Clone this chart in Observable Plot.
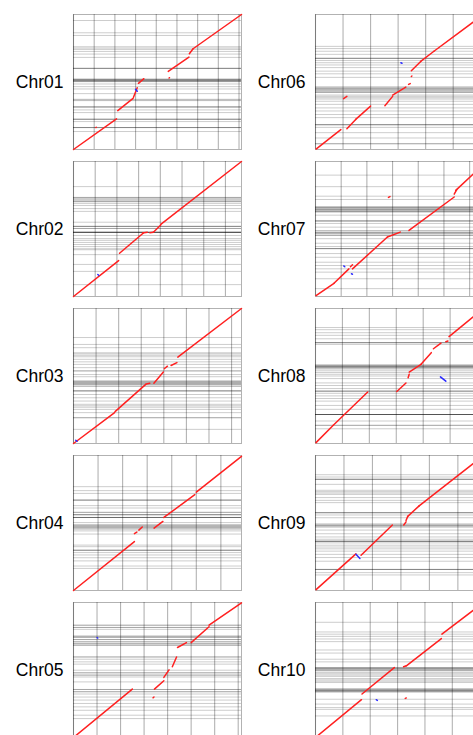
<!DOCTYPE html>
<html><head><meta charset="utf-8">
<script src="https://cdn.jsdelivr.net/npm/d3@7"></script>
<script src="https://cdn.jsdelivr.net/npm/@observablehq/plot@0.6"></script>
<style>
body{margin:0;background:#fff;}
#chart{position:relative;width:473px;height:735px;overflow:hidden;font-family:"Liberation Sans",Arial,sans-serif;}
.panel{position:absolute;}
.panel svg{max-width:none !important;}
</style></head>
<body><div id="chart"></div>
<script>
const chromosomes = ["Chr01","Chr02","Chr03","Chr04","Chr05","Chr06","Chr07","Chr08","Chr09","Chr10"];
const lengths = [40.6, 38.7, 37.2, 34.2, 35.7, 30.5, 32.7, 31.2, 29.5, 30.7]; // Mb
const tickStep = 5; // Mb

// forward alignments [x1, y1, x2, y2] in Mb
const chr01Fwd = [[0,0,10.4,9.2],[10.7,11.7,14.4,15.4],[14.5,15.7,15.4,18.6],[15.7,19.9,17.0,21.3],[23.1,21.5,23.2,21.6],[5.4,6.6,5.5,6.7],[22.9,23.5,27.9,27.8],[28.0,28.8,28.9,30.3],[28.9,30.3,40.6,40.6]];
const chr02Fwd = [[0,0,10.4,10.3],[10.6,12.4,16.1,18.2],[15.9,18.2,17.0,18.4],[17.6,18.3,18.4,18.4],[18.4,18.4,20.1,20.5],[20.1,20.7,38.7,38.7]];
const chr03Fwd = [[0,0,9.1,8.5],[9.2,8.8,16.0,16.3],[16.1,16.4,16.9,16.6],[17.8,16.6,19.9,19.7],[20.1,20.6,20.8,21.3],[21.6,21.5,22.9,22.3],[23.1,23.8,37.2,37.2]];
const chr04Fwd = [[0,0,12.4,12.4],[12.4,14.4,12.9,14.8],[13.3,15.3,14.0,16.1],[16.4,15.8,18.2,17.5],[18.4,18.5,24.7,24.3],[25.0,24.9,34.2,34.0]];
const chr05Fwd = [[0,0,12.5,12.8],[16.9,10.5,17.1,10.7],[17.2,12.8,19.2,15.0],[19.2,15.9,20.3,17.9],[21.0,18.7,21.9,21.3],[22.1,23.8,24.0,25.1],[25.0,25.1,28.8,29.3],[28.8,29.7,35.7,35.6]];
const chr06Fwd = [[0.1,0.1,4.6,4.5],[5.7,4.7,7.3,6.8],[7.3,6.8,10.0,9.8],[5.1,11.5,5.7,12.0],[12.6,9.9,14.0,12.0],[14.0,12.3,16.4,14.1],[16.9,14.7,17.2,14.9],[17.4,16.5,17.5,16.6],[17.4,17.8,19.1,19.9],[19.1,19.9,21.5,22.2],[21.5,22.2,30.5,30.5]];
const chr07Fwd = [[0.1,0.2,3.6,3.2],[3.6,3.2,6.5,6.7],[6.8,7.2,7.2,7.7],[7.2,6.7,14.0,14.4],[14.0,14.4,16.5,15.6],[18.2,16.0,27.0,24.1],[27.0,24.8,27.5,25.9],[27.3,25.7,32.7,32.0],[14.2,24.0,14.5,24.2]];
const chr08Fwd = [[0.1,0.2,3.3,4.2],[3.3,4.2,9.7,11.9],[15.1,12.0,16.8,14.0],[17.2,15.2,17.4,16.0],[17.4,16.5,19.6,18.3],[19.6,18.3,21.5,21.0],[21.9,21.9,23.3,23.2],[24.2,23.5,24.6,23.7],[24.8,24.7,31.2,31.2]];
const chr09Fwd = [[0.1,0.2,7.1,8.0],[8.0,7.7,13.5,14.3],[15.5,14.3,15.9,15.0],[15.9,15.3,16.2,16.2],[16.2,16.2,18.2,18.5],[18.2,18.5,29.5,29.5]];
const chr10Fwd = [[0,0,8.4,8.6],[8.5,9.9,14.4,15.9],[16.1,16.1,16.6,16.3],[16.6,16.3,23.0,22.5],[23.1,23.5,30.7,30.7],[16.4,8.9,16.6,9.0]];

// reverse alignments [x1, y1, x2, y2] in Mb
const chr01Rev = [[15.0,18.1,15.4,17.5]];
const chr02Rev = [[5.6,6.3,5.8,6.1]];
const chr03Rev = [[0.5,0.9,0.8,0.6]];
const chr04Rev = [];
const chr05Rev = [[5.0,26.4,5.15,26.3]];
const chr06Rev = [[15.5,19.6,15.7,19.5]];
const chr07Rev = [[5.5,7.4,5.7,7.2],[7.0,5.5,7.2,5.4]];
const chr08Rev = [[23.2,15.4,24.2,14.4]];
const chr09Rev = [[7.1,7.9,7.8,7.0]];
const chr10Rev = [[11.1,8.6,11.3,8.45]];

// contig boundaries on the query (y) axis, Mb; repeats = several boundaries at one place
const chr01Contigs = [38.8,35.1,34.3,30.9,30.5,30.1,29.5,28.7,27.7,24.4,24.4,24.4,21.2,21.1,21.0,20.9,20.8,20.7,20.6,20.5,20.4,19.7,18.9,18.2,16.8,15.1,14.9,14.7,12.8,12.8,12.8,11.9,11.1,9.1,9.1,9.1,8.4,6.6,6.6,6.6,5.4];
const chr02Contigs = [31.5,28.4,28.1,27.8,27.5,27.2,28.4,27.2,26.7,26.1,25.2,24.4,21.3,20.1,20.1,20.1,19.5,19.5,18.4,18.4,18.4,18.4,18.4,18.4,17.5,16.6,16.1,15.5,14.9,14.3,13.7,13.4,12.0,9.2,7.2,3.4];
const chr03Contigs = [29.2,27.3,26.4,25.0,24.7,24.3,23.9,23.2,22.5,21.8,20.9,20.0,20.0,19.0,18.4,17.2,17.2,16.9,16.9,16.6,16.6,16.3,16.3,15.8,15.8,14.5,14.5,14.5,13.5,12.6,11.7,10.8,10.4,10.0,9.4,8.5,7.1,7.1,3.9];
const chr04Contigs = [26.3,25.3,24.6,22.9,22.9,22.9,21.5,20.9,19.8,19.8,19.2,19.2,19.2,18.5,18.5,18.5,18.5,17.2,16.6,16.6,16.3,16.3,16.0,16.0,15.6,15.6,15.1,14.3,11.5,11.1,10.2,10.2,10.2,9.6,9.0,8.3,7.5,6.2,5.6];
const chr05Contigs = [29.7,29.7,29.1,29.1,28.6,26.8,26.8,26.5,26.5,25.9,25.9,25.3,25.3,24.8,24.8,24.4,24.4,21.3,21.3,20.7,20.0,19.4,17.8,17.1,17.1,16.5,16.5,16.0,14.7,12.7,12.7,12.1,12.1,11.5,10.7,9.9,9.0,8.1,7.2,5.9,5.0];
const chr06Contigs = [23.3,22.8,22.2,21.5,20.6,20.6,20.6,20.1,19.6,19.1,18.5,17.7,17.1,16.3,14.1,14.1,13.8,13.8,13.5,13.5,13.2,13.2,12.9,12.9,12.3,12.0,11.7,11.4,10.9,10.2,9.4,8.7,7.9,7.2,5.6,5.6,5.6,5.0,3.8,2.6,1.3,1.3];
const chr07Contigs = [29.4,26.6,24.3,23.5,21.7,21.7,21.5,21.5,21.2,21.2,21.0,21.0,20.7,20.7,20.5,20.5,19.7,18.3,18.3,18.3,17.7,16.8,15.9,15.9,15.5,15.5,15.2,15.2,14.8,14.8,14.0,12.9,12.1,11.6,11.6,11.6,10.4,9.5,8.3,7.5,6.7,5.9,4.3,1.9];
const chr08Contigs = [26.8,26.3,25.6,25.0,24.2,23.3,23.3,23.3,22.9,18.1,18.1,18.1,17.8,17.8,17.8,17.5,17.5,17.5,17.2,16.8,16.4,16.0,15.6,15.0,14.0,13.4,12.7,12.1,12.1,12.1,11.6,11.0,10.4,9.8,8.8,7.9,6.7,6.7,6.7,6.7,6.7,5.2,4.2,4.2,3.4];
const chr09Contigs = [25.3,24.8,24.3,24.3,24.3,23.2,21.9,21.6,21.3,21.0,20.3,19.7,19.2,17.0,17.0,17.0,16.5,15.9,14.5,14.5,14.2,14.2,13.9,13.9,13.2,12.4,11.7,11.2,10.9,10.7,10.7,10.7,10.4,9.9,9.5,9.1,8.6,7.9,7.2,6.4,4.6,4.6,4.6,3.9,3.4];
const chr10Contigs = [26.2,24.0,23.5,23.0,22.4,21.8,19.9,19.2,17.8,17.2,15.9,15.9,15.7,15.7,15.5,15.5,15.2,15.2,14.8,14.5,14.2,13.9,13.4,13.1,12.8,12.5,11.0,11.0,11.0,10.7,10.7,10.7,10.4,10.4,10.4,8.7,7.6,6.8,6.4,4.9];

const forward = [chr01Fwd,chr02Fwd,chr03Fwd,chr04Fwd,chr05Fwd,chr06Fwd,chr07Fwd,chr08Fwd,chr09Fwd,chr10Fwd];
const reverse = [chr01Rev,chr02Rev,chr03Rev,chr04Rev,chr05Rev,chr06Rev,chr07Rev,chr08Rev,chr09Rev,chr10Rev];
const contigs = [chr01Contigs,chr02Contigs,chr03Contigs,chr04Contigs,chr05Contigs,chr06Contigs,chr07Contigs,chr08Contigs,chr09Contigs,chr10Contigs];

const chart = document.getElementById("chart");
const W = 168, H = 135, ML = 73, MR = 3, MT = 3, MB = 3;
chromosomes.forEach((name, i) => {
  const len = lengths[i];
  const col = i < 5 ? 0 : 1, row = i % 5;
  const seg = {x1: d => d[0], y1: d => d[1], x2: d => d[2], y2: d => d[3], strokeLinecap: "round"};
  const svg = Plot.plot({
    width: ML + W + MR, height: MT + H + MB,
    marginLeft: ML, marginRight: MR, marginTop: MT, marginBottom: MB,
    x: {domain: [0, len], axis: null},
    y: {domain: [0, len], axis: null},
    style: {background: "transparent", overflow: "visible", maxWidth: "none", fontFamily: "'Liberation Sans', Arial, sans-serif"},
    marks: [
      Plot.ruleY(contigs[i], {stroke: "#000", strokeOpacity: 0.2, strokeWidth: 1}),
      Plot.ruleX(d3.range(0, len, tickStep), {stroke: "#000", strokeOpacity: 0.3, strokeWidth: 1.1}),
      Plot.frame({stroke: "#000", strokeOpacity: 0.3}),
      Plot.link(forward[i], {...seg, stroke: "#ff2020", strokeWidth: 1.5}),
      Plot.link(reverse[i], {...seg, stroke: "#2a2aff", strokeWidth: 1.5}),
      Plot.text([name], {text: d => d, frameAnchor: "left", dx: -10, textAnchor: "end", fontSize: 17.5, fill: "#000"})
    ]
  });
  const div = document.createElement("div");
  div.className = "panel";
  div.style.left = (col * 242) + "px";
  div.style.top = (13.5 + row * 147.2 - MT) + "px";
  div.style.width = (ML + W + MR) + "px";
  div.appendChild(svg);
  chart.appendChild(div);
});
</script>
</body></html>
